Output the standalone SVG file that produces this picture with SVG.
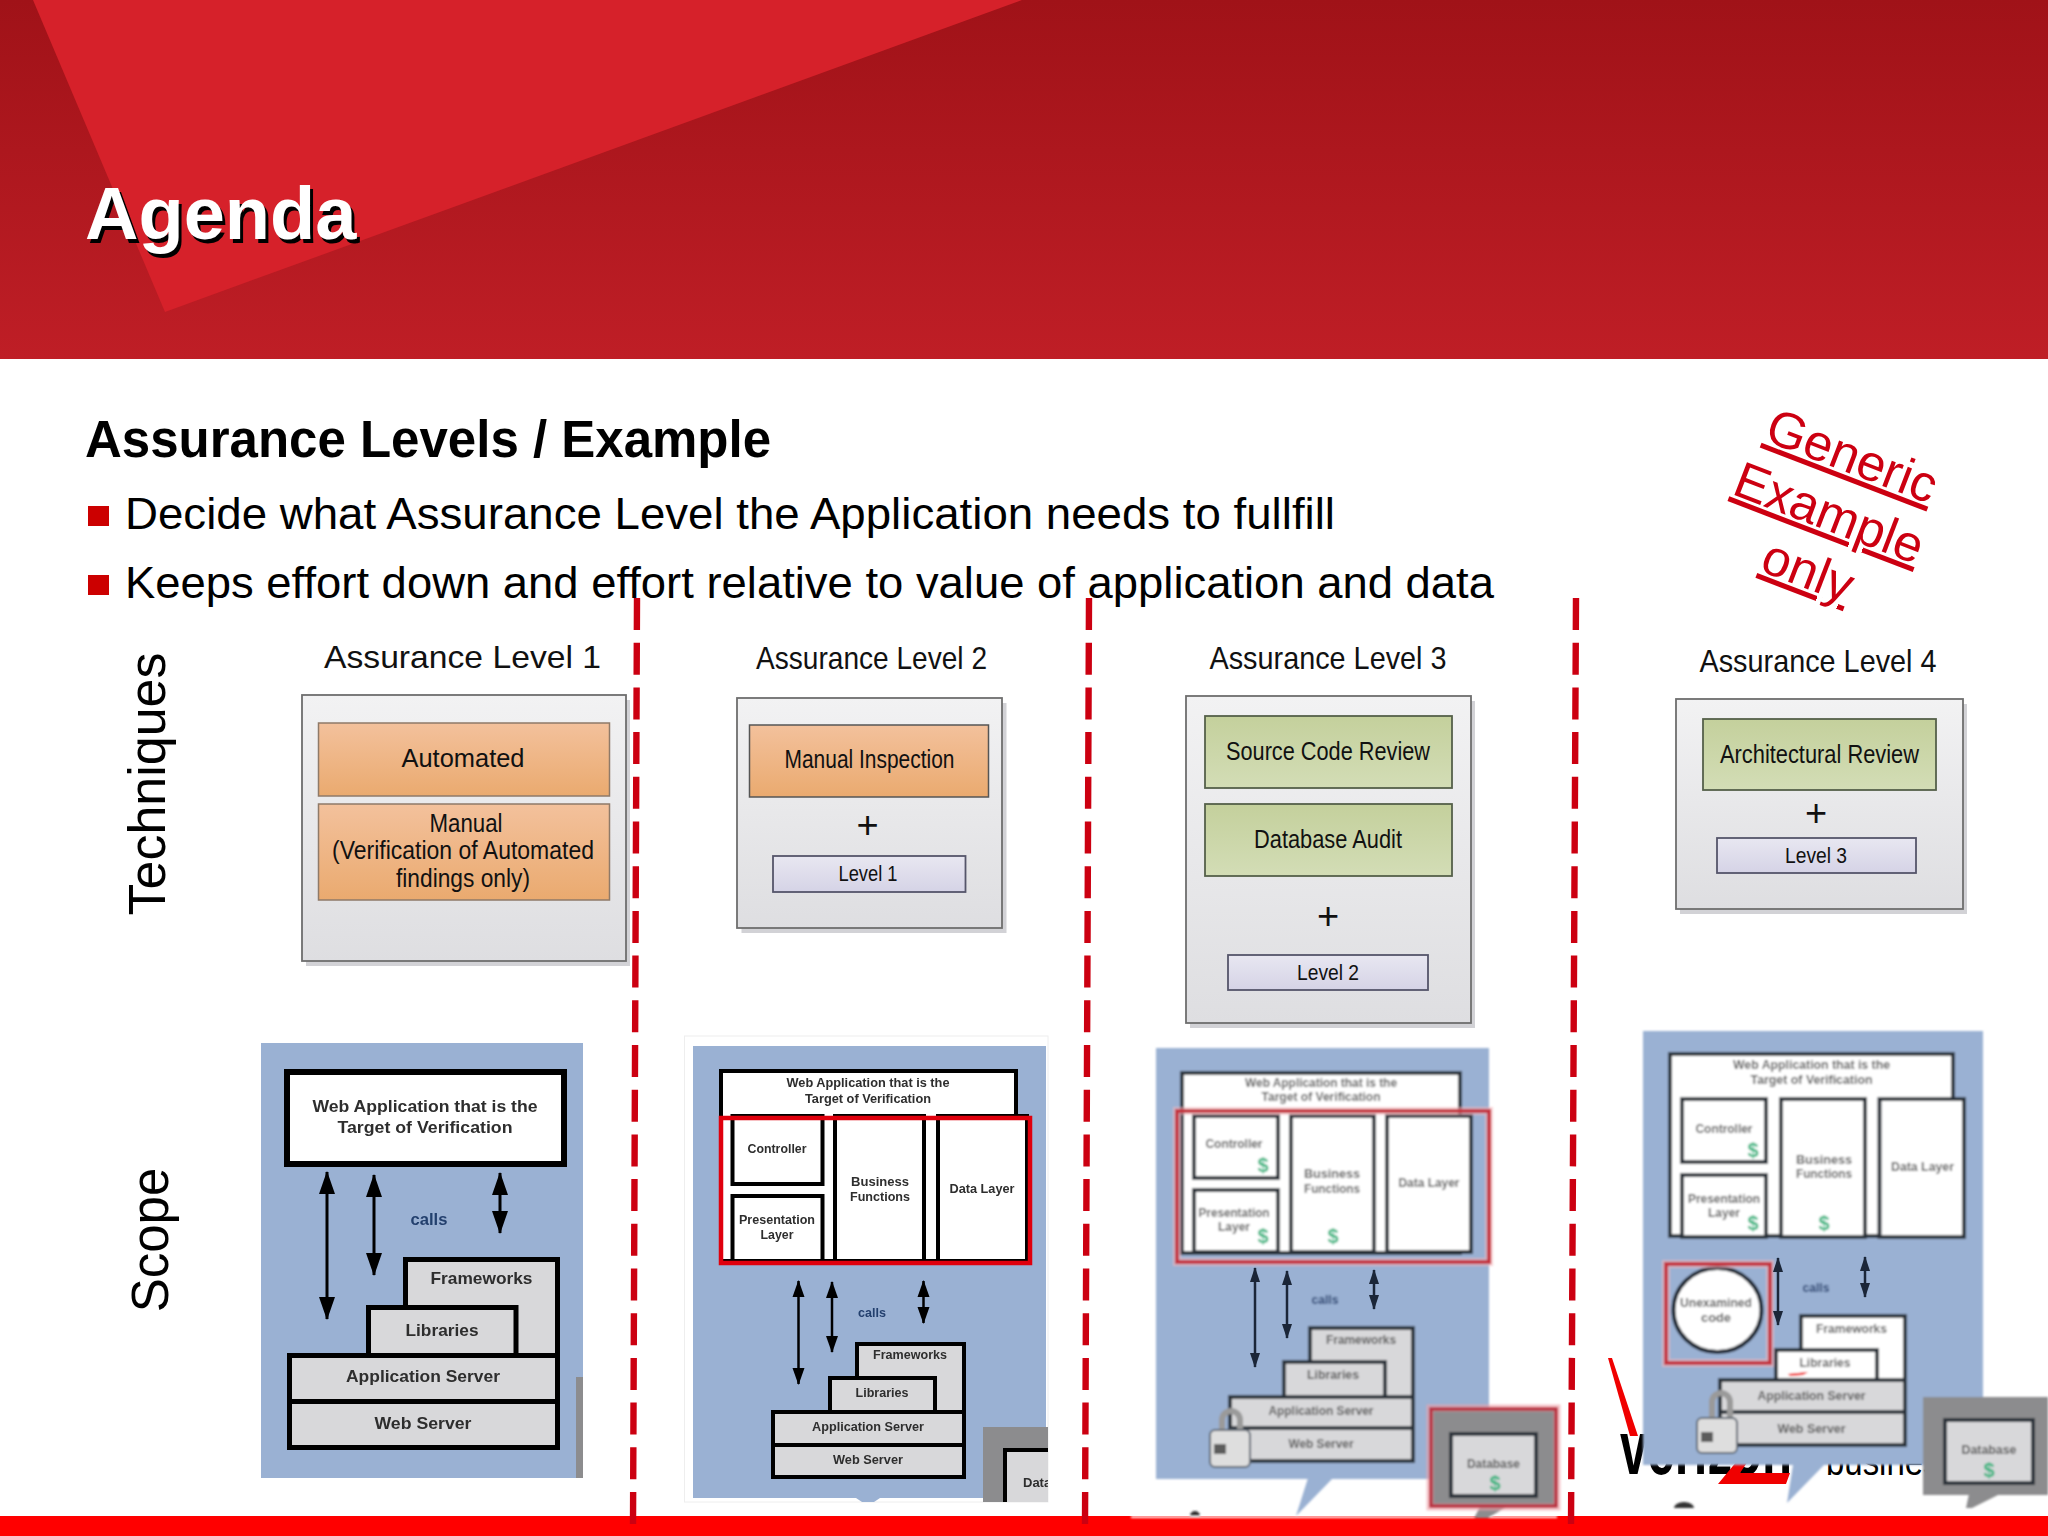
<svg xmlns="http://www.w3.org/2000/svg" width="2048" height="1536" viewBox="0 0 2048 1536" font-family="'Liberation Sans', Arial, sans-serif">
<style>
text{font-family:"Liberation Sans",Arial,sans-serif}
.title{font-size:32px;fill:#111;text-anchor:middle}
.mid{font-size:25.5px;fill:#111;text-anchor:middle}
.lvl{font-size:22px;fill:#111;text-anchor:middle}
.plus{font-size:38px;fill:#111;text-anchor:middle}
.outer{fill:url(#gGrey);stroke:#6e6e6e;stroke-width:1.8}
.shadow{fill:#d2d2d6}
.org{fill:url(#gOrg);stroke:#8f7a68;stroke-width:1.5}
.grn{fill:url(#gGrn);stroke:#55604a;stroke-width:1.8}
.lil{fill:url(#gLil);stroke:#55556a;stroke-width:1.8}
.side{fill:#000;text-anchor:middle}
.b{font-weight:bold;text-anchor:middle;fill:#2d2d2d}
.s17{font-size:17px}.s13{font-size:13px}
.calls{fill:#24406e}
.blue{fill:#9AB1D3}
.k1{fill:#D8D8DA;stroke:#000;stroke-width:5}
.w1{fill:#fff;stroke:#000;stroke-width:6}
.k2{fill:#D8D8DA;stroke:#000;stroke-width:4}
.w2{fill:#fff;stroke:#000;stroke-width:4}
.k3{fill:#D8D8DA;stroke:#2b303a;stroke-width:4}
.w3{fill:#fff;stroke:#2b303a;stroke-width:4}
.dim{fill:#5a5a5a}
.usd{font-size:20px;font-weight:bold;fill:#2DB37C;text-anchor:middle}
.dbg{fill:#8C8C8E}
.rb{fill:none;stroke:#C4303E;stroke-width:4}
.rh{fill:none;stroke:#f3b5ba;stroke-width:8;opacity:.6}
.a1{stroke:#000;stroke-width:3;marker-start:url(#h1);marker-end:url(#h1)}
.a2{stroke:#000;stroke-width:2.5;marker-start:url(#h2);marker-end:url(#h2)}
.a3{stroke:#1b2638;stroke-width:2.5;marker-start:url(#h3);marker-end:url(#h3)}
.dash{stroke:#CC0011;stroke-width:6.4;stroke-dasharray:32 12.7;fill:none}
.gen{font-size:51px;fill:#CC0011;text-anchor:middle;text-decoration:underline}
.bul{fill:#CC0000}
.body{font-size:45px;fill:#000}
.lockb{fill:#dedede;stroke:#5f6873;stroke-width:2}
.locks{fill:none;stroke:#9a9a9a;stroke-width:6}
.lockk{fill:#5c5c5c}
</style>
<defs>
<linearGradient id="gHead" x1="0" y1="0" x2="0" y2="1"><stop offset="0" stop-color="#A01218"/><stop offset="1" stop-color="#BF1E26"/></linearGradient>
<linearGradient id="gGrey" x1="0" y1="0" x2="0" y2="1"><stop offset="0" stop-color="#F2F2F3"/><stop offset="1" stop-color="#DEDEE1"/></linearGradient>
<linearGradient id="gOrg" x1="0" y1="0" x2="0" y2="1"><stop offset="0" stop-color="#F3C19C"/><stop offset="1" stop-color="#EAAA6F"/></linearGradient>
<linearGradient id="gGrn" x1="0" y1="0" x2="0" y2="1"><stop offset="0" stop-color="#C4D09C"/><stop offset="1" stop-color="#D3DDB6"/></linearGradient>
<linearGradient id="gLil" x1="0" y1="0" x2="0" y2="1"><stop offset="0" stop-color="#E8E7F1"/><stop offset="1" stop-color="#D5D3E6"/></linearGradient>
<marker id="h1" markerUnits="userSpaceOnUse" markerWidth="24" markerHeight="18" refX="22" refY="9" orient="auto-start-reverse"><path d="M0,1 L23,9 L0,17 Z" fill="#000"/></marker>
<marker id="h2" markerUnits="userSpaceOnUse" markerWidth="18" markerHeight="14" refX="16" refY="7" orient="auto-start-reverse"><path d="M0,1 L17,7 L0,13 Z" fill="#000"/></marker>
<marker id="h3" markerUnits="userSpaceOnUse" markerWidth="16" markerHeight="12" refX="14" refY="6" orient="auto-start-reverse"><path d="M0,1 L15,6 L0,11 Z" fill="#1b2638"/></marker>
<filter id="soft1" x="-5%" y="-5%" width="110%" height="110%"><feGaussianBlur stdDeviation="0.45"/></filter>
<filter id="soft3" x="-5%" y="-5%" width="110%" height="110%"><feGaussianBlur stdDeviation="0.8"/></filter>
<clipPath id="clipP2"><rect x="684" y="1036" width="364" height="466"/></clipPath>
</defs>

<rect width="2048" height="1536" fill="#fff"/>

<g id="header">
<rect width="2048" height="359" fill="url(#gHead)"/>
<polygon points="33,0 1022,0 165,312" fill="#D6212A"/>
<text x="88" y="243" font-size="74" font-weight="bold" fill="#000">Agenda</text>
<text x="85" y="239" font-size="74" font-weight="bold" fill="#fff">Agenda</text>
</g>
<rect id="footer-band" y="1516" width="2048" height="20" fill="#FF0000"/>

<g id="heading">
<text x="85" y="457" font-size="51" font-weight="bold" fill="#000">Assurance Levels / Example</text>
<rect class="bul" x="88" y="506" width="21" height="20"/>
<text class="body" x="125" y="529" textLength="1210" lengthAdjust="spacingAndGlyphs">Decide what Assurance Level the Application needs to fullfill</text>
<rect class="bul" x="88" y="575" width="21" height="20"/>
<text class="body" x="125" y="598" textLength="1369" lengthAdjust="spacingAndGlyphs">Keeps effort down and effort relative to value of application and data</text>
</g>

<g id="stamp">
<text class="gen" transform="translate(1846,472) rotate(21)">Generic</text>
<text class="gen" transform="translate(1823,529) rotate(21)">Example</text>
<text class="gen" transform="translate(1802,587) rotate(21)">only</text>
</g>

<g id="axis-labels">
<text class="side" font-size="52" transform="translate(165,784) rotate(-90)">Techniques</text>
<text class="side" font-size="51" transform="translate(168,1240) rotate(-90)">Scope</text>
</g>

<g id="level-1">
<text class="title" x="462.500" y="668" textLength="277" lengthAdjust="spacingAndGlyphs">Assurance Level 1</text>
<rect class="shadow" x="306" y="700" width="324" height="266"/>
<rect class="outer" x="302" y="695" width="324" height="266"/>
<rect class="org" x="318.500" y="723" width="291" height="73"/>
<text class="mid" x="463" y="767" textLength="123" lengthAdjust="spacingAndGlyphs">Automated</text>
<rect class="org" x="318.500" y="804" width="291" height="96"/>
<text class="mid" x="466" y="832" textLength="73" lengthAdjust="spacingAndGlyphs">Manual</text>
<text class="mid" x="463" y="859" textLength="262" lengthAdjust="spacingAndGlyphs">(Verification of Automated</text>
<text class="mid" x="463" y="887" textLength="134" lengthAdjust="spacingAndGlyphs">findings only)</text>
</g>

<g id="level-2" transform="translate(-2.5,0)">
<text class="title" x="874" y="669" textLength="231" lengthAdjust="spacingAndGlyphs">Assurance Level 2</text>
<rect class="shadow" x="744" y="703" width="265" height="230"/>
<rect class="outer" x="739.500" y="698" width="265" height="230"/>
<rect class="org" x="752" y="725" width="239" height="72" style="stroke:#555"/>
<text class="mid" x="872" y="768" textLength="170" lengthAdjust="spacingAndGlyphs">Manual Inspection</text>
<text class="plus" x="870" y="838">+</text>
<rect class="lil" x="775.500" y="856" width="192.500" height="36"/>
<text class="lvl" x="870.500" y="881" textLength="59" lengthAdjust="spacingAndGlyphs">Level 1</text>
</g>

<g id="level-3">
<text class="title" x="1328" y="669" textLength="237" lengthAdjust="spacingAndGlyphs">Assurance Level 3</text>
<rect class="shadow" x="1190" y="701" width="285" height="327"/>
<rect class="outer" x="1186" y="696" width="285" height="327"/>
<rect class="grn" x="1205" y="716" width="247" height="72"/>
<text class="mid" x="1328" y="760" textLength="204" lengthAdjust="spacingAndGlyphs">Source Code Review</text>
<rect class="grn" x="1205" y="804" width="247" height="72"/>
<text class="mid" x="1328" y="848" textLength="148" lengthAdjust="spacingAndGlyphs">Database Audit</text>
<text class="plus" x="1328" y="929">+</text>
<rect class="lil" x="1228" y="955" width="200" height="35"/>
<text class="lvl" x="1328" y="980" textLength="62" lengthAdjust="spacingAndGlyphs">Level 2</text>
</g>

<g id="level-4">
<text class="title" x="1818" y="672" textLength="237" lengthAdjust="spacingAndGlyphs">Assurance Level 4</text>
<rect class="shadow" x="1680" y="704" width="287" height="210"/>
<rect class="outer" x="1676" y="699" width="287" height="210"/>
<rect class="grn" x="1703" y="719" width="233" height="71"/>
<text class="mid" x="1819.500" y="763" textLength="199" lengthAdjust="spacingAndGlyphs">Architectural Review</text>
<text class="plus" x="1816" y="826">+</text>
<rect class="lil" x="1717" y="838" width="199" height="35"/>
<text class="lvl" x="1816" y="863" textLength="62" lengthAdjust="spacingAndGlyphs">Level 3</text>
</g>

<g id="scope-1" filter="url(#soft1)">
<rect class="blue" x="261" y="1043" width="322" height="435"/>
<rect x="576" y="1377" width="7" height="101" fill="#8C8C8E"/>
<rect class="w1" x="287" y="1072" width="277" height="92"/>
<text class="b s17" x="425" y="1112" textLength="225" lengthAdjust="spacingAndGlyphs">Web Application that is the</text>
<text class="b s17" x="425" y="1133" textLength="175" lengthAdjust="spacingAndGlyphs">Target of Verification</text>
<text class="b s17 calls" x="429" y="1225" textLength="37" lengthAdjust="spacingAndGlyphs">calls</text>
<rect class="k1" x="405.500" y="1259.500" width="152" height="100"/>
<rect class="k1" x="368.500" y="1307.500" width="147.500" height="48"/>
<rect class="k1" x="289.500" y="1355.500" width="268" height="46"/>
<rect class="k1" x="289.500" y="1401.500" width="268" height="46"/>
<text class="b s17" x="481.500" y="1284" textLength="102" lengthAdjust="spacingAndGlyphs">Frameworks</text>
<text class="b s17" x="442" y="1336" textLength="73" lengthAdjust="spacingAndGlyphs">Libraries</text>
<text class="b s17" x="423" y="1382" textLength="154" lengthAdjust="spacingAndGlyphs">Application Server</text>
<text class="b s17" x="423" y="1429" textLength="97" lengthAdjust="spacingAndGlyphs">Web Server</text>
</g>

<g id="scope-2" filter="url(#soft1)">
<rect x="684.500" y="1036" width="363.500" height="466" fill="#fff" stroke="#eee" stroke-width="1"/>
<rect class="blue" x="693" y="1046" width="353" height="452"/>
<polygon class="blue" points="856,1498 880,1498 874,1502 862,1502"/>
<rect class="w2" x="721" y="1071" width="295" height="190"/>
<text class="b s13" x="868" y="1087" textLength="163" lengthAdjust="spacingAndGlyphs">Web Application that is the</text>
<text class="b s13" x="868" y="1103" textLength="126" lengthAdjust="spacingAndGlyphs">Target of Verification</text>
<rect class="w2" x="732.500" y="1116" width="90" height="68"/>
<rect class="w2" x="732.500" y="1196" width="90" height="65"/>
<rect class="w2" x="835" y="1116" width="89" height="145"/>
<rect class="w2" x="938" y="1116" width="89" height="145"/>
<text class="b s13" x="777" y="1153" textLength="59" lengthAdjust="spacingAndGlyphs">Controller</text>
<text class="b s13" x="777" y="1224" textLength="76" lengthAdjust="spacingAndGlyphs">Presentation</text>
<text class="b s13" x="777" y="1239" textLength="33" lengthAdjust="spacingAndGlyphs">Layer</text>
<text class="b s13" x="880" y="1186" textLength="58" lengthAdjust="spacingAndGlyphs">Business</text>
<text class="b s13" x="880" y="1201" textLength="60" lengthAdjust="spacingAndGlyphs">Functions</text>
<text class="b s13" x="982" y="1193" textLength="65" lengthAdjust="spacingAndGlyphs">Data Layer</text>
<rect x="721" y="1118" width="309" height="145" fill="none" stroke="#E0000F" stroke-width="4.500"/>
<text class="b s13 calls" x="872" y="1317" textLength="28" lengthAdjust="spacingAndGlyphs">calls</text>
<rect class="k2" x="857" y="1344" width="107" height="68"/>
<rect class="k2" x="830" y="1378" width="105" height="34"/>
<rect class="k2" x="773" y="1412" width="191" height="33"/>
<rect class="k2" x="773" y="1445" width="191" height="32"/>
<text class="b s13" x="910" y="1359" textLength="74" lengthAdjust="spacingAndGlyphs">Frameworks</text>
<text class="b s13" x="882" y="1397" textLength="53" lengthAdjust="spacingAndGlyphs">Libraries</text>
<text class="b s13" x="868" y="1431" textLength="112" lengthAdjust="spacingAndGlyphs">Application Server</text>
<text class="b s13" x="868" y="1464" textLength="70" lengthAdjust="spacingAndGlyphs">Web Server</text>
<g clip-path="url(#clipP2)">
<rect class="dbg" x="983" y="1427" width="70" height="80"/>
<rect x="1005" y="1450" width="60" height="60" fill="#D8D8DA" stroke="#000" stroke-width="4"/>
<text x="1023" y="1487" font-size="13" font-weight="bold" fill="#2d2d2d">Data</text>
</g>
</g>

<g id="verizon-logo">
<polygon points="1608,1358 1612,1358 1638,1436 1630,1436" fill="#F00000"/>
<text x="1620" y="1474" font-size="76" font-weight="bold" fill="#000" textLength="172" lengthAdjust="spacingAndGlyphs">verizon</text>
<polygon points="1718,1484 1786,1484 1790,1473 1740,1473 1752,1455 1742,1455" fill="#F00000"/>
<text x="1826" y="1475" font-size="38" fill="#000" textLength="130" lengthAdjust="spacingAndGlyphs">business</text>
</g>

<g id="scope-3" filter="url(#soft3)">
<rect x="1131" y="1516" width="426" height="2" fill="#fff"/>
<rect class="blue" x="1156" y="1048" width="333" height="431"/>
<polygon class="blue" points="1308,1478 1333,1478 1296,1516"/>
<rect class="w3" x="1182" y="1073" width="278" height="180"/>
<text class="b s13 dim" x="1321" y="1087" textLength="152" lengthAdjust="spacingAndGlyphs">Web Application that is the</text>
<text class="b s13 dim" x="1321" y="1101" textLength="119" lengthAdjust="spacingAndGlyphs">Target of Verification</text>
<rect class="w3" x="1194" y="1116" width="84" height="62"/>
<rect class="w3" x="1194" y="1190" width="84" height="62"/>
<rect class="w3" x="1291" y="1116" width="83" height="136"/>
<rect class="w3" x="1387" y="1116" width="84" height="136"/>
<text class="b s13 dim" x="1234" y="1148" textLength="57" lengthAdjust="spacingAndGlyphs">Controller</text>
<text class="b s13 dim" x="1234" y="1217" textLength="71" lengthAdjust="spacingAndGlyphs">Presentation</text>
<text class="b s13 dim" x="1234" y="1231" textLength="32" lengthAdjust="spacingAndGlyphs">Layer</text>
<text class="b s13 dim" x="1332" y="1178" textLength="56" lengthAdjust="spacingAndGlyphs">Business</text>
<text class="b s13 dim" x="1332" y="1193" textLength="56" lengthAdjust="spacingAndGlyphs">Functions</text>
<text class="b s13 dim" x="1429" y="1187" textLength="61" lengthAdjust="spacingAndGlyphs">Data Layer</text>
<text class="usd" x="1263" y="1172">$</text>
<text class="usd" x="1263" y="1243">$</text>
<text class="usd" x="1333" y="1243">$</text>
<rect class="rh" x="1177" y="1111" width="312" height="151"/>
<rect class="rb" x="1177" y="1111" width="312" height="151"/>
<text class="b s13 calls" x="1325" y="1304" textLength="27" lengthAdjust="spacingAndGlyphs">calls</text>
<rect class="k3" x="1310" y="1328" width="103" height="69"/>
<rect class="k3" x="1284" y="1362" width="101" height="35"/>
<rect class="k3" x="1230" y="1397" width="183" height="31"/>
<rect class="k3" x="1230" y="1428" width="183" height="33"/>
<text class="b s13 dim" x="1361" y="1344" textLength="70" lengthAdjust="spacingAndGlyphs">Frameworks</text>
<text class="b s13 dim" x="1333" y="1379" textLength="52" lengthAdjust="spacingAndGlyphs">Libraries</text>
<text class="b s13 dim" x="1321" y="1415" textLength="105" lengthAdjust="spacingAndGlyphs">Application Server</text>
<text class="b s13 dim" x="1321" y="1448" textLength="65" lengthAdjust="spacingAndGlyphs">Web Server</text>
<path class="locks" d="M1222,1432 V1420 a9,9 0 0 1 18,0 V1432"/>
<rect class="lockb" x="1210" y="1430" width="40" height="37" rx="5"/>
<rect class="lockk" x="1214" y="1444" width="12" height="10"/>
<path d="M1190,1516 a5,5 0 0 1 10,0 Z" fill="#333"/>
<polygon class="dbg" points="1480,1507 1506,1507 1488,1518 1474,1518"/>
<rect class="dbg" x="1430" y="1408" width="127" height="99"/>
<rect x="1430" y="1408" width="127" height="99" fill="none" stroke="#f0a0a8" stroke-width="7" opacity=".6"/>
<rect x="1431" y="1409" width="125" height="97" fill="none" stroke="#B83040" stroke-width="3.500"/>
<rect class="k3" x="1451" y="1434" width="85" height="62"/>
<text class="b s13 dim" x="1493.500" y="1468" textLength="53" lengthAdjust="spacingAndGlyphs">Database</text>
<text class="usd" x="1495" y="1490">$</text>
</g>

<g id="scope-4" filter="url(#soft3)">
<rect class="blue" x="1643" y="1031" width="340" height="434"/>
<polygon class="blue" points="1793,1465 1824,1465 1787,1503"/>
<rect class="w3" x="1670" y="1054" width="283" height="182"/>
<text class="b s13 dim" x="1811.500" y="1069" textLength="157" lengthAdjust="spacingAndGlyphs">Web Application that is the</text>
<text class="b s13 dim" x="1811.500" y="1084" textLength="122" lengthAdjust="spacingAndGlyphs">Target of Verification</text>
<rect class="w3" x="1682" y="1099" width="84" height="63"/>
<rect class="w3" x="1682" y="1175" width="84" height="62"/>
<rect class="w3" x="1781" y="1099" width="84" height="138"/>
<rect class="w3" x="1879.500" y="1099" width="84.500" height="138"/>
<text class="b s13 dim" x="1724" y="1133" textLength="57" lengthAdjust="spacingAndGlyphs">Controller</text>
<text class="b s13 dim" x="1724" y="1203" textLength="72" lengthAdjust="spacingAndGlyphs">Presentation</text>
<text class="b s13 dim" x="1724" y="1217" textLength="32" lengthAdjust="spacingAndGlyphs">Layer</text>
<text class="b s13 dim" x="1824" y="1164" textLength="56" lengthAdjust="spacingAndGlyphs">Business</text>
<text class="b s13 dim" x="1824" y="1178" textLength="56" lengthAdjust="spacingAndGlyphs">Functions</text>
<text class="b s13 dim" x="1922.500" y="1171" textLength="63" lengthAdjust="spacingAndGlyphs">Data Layer</text>
<text class="usd" x="1753" y="1157">$</text>
<text class="usd" x="1753" y="1230">$</text>
<text class="usd" x="1824" y="1230">$</text>
<ellipse cx="1717.500" cy="1310" rx="44" ry="42" fill="#fff" stroke="#1e2633" stroke-width="4"/>
<text class="b s13 dim" x="1716" y="1307" textLength="72" lengthAdjust="spacingAndGlyphs">Unexamined</text>
<text class="b s13 dim" x="1716" y="1322" textLength="30" lengthAdjust="spacingAndGlyphs">code</text>
<rect class="rh" x="1666" y="1264" width="104" height="99"/>
<rect class="rb" x="1666" y="1264" width="104" height="99"/>
<text class="b s13 calls" x="1816" y="1292" textLength="27" lengthAdjust="spacingAndGlyphs">calls</text>
<rect class="w3" x="1801" y="1316" width="104" height="64"/>
<rect class="w3" x="1776" y="1350" width="101" height="30"/>
<polygon points="1788,1374 1808,1372 1803,1375 1790,1376" fill="#F00000"/>
<rect class="k3" x="1720" y="1380" width="185" height="32"/>
<rect class="k3" x="1720" y="1412" width="185" height="33"/>
<text class="b s13 dim" x="1851.500" y="1333" textLength="71" lengthAdjust="spacingAndGlyphs">Frameworks</text>
<text class="b s13 dim" x="1825" y="1367" textLength="51" lengthAdjust="spacingAndGlyphs">Libraries</text>
<text class="b s13 dim" x="1811.500" y="1400" textLength="108" lengthAdjust="spacingAndGlyphs">Application Server</text>
<text class="b s13 dim" x="1811.500" y="1433" textLength="68" lengthAdjust="spacingAndGlyphs">Web Server</text>
<path class="locks" d="M1712,1420 V1402 a9,9 0 0 1 18,0 V1420"/>
<rect class="lockb" x="1697" y="1418" width="40" height="35" rx="5"/>
<rect class="lockk" x="1701" y="1432" width="12" height="10"/>
<path d="M1674,1508 a10,6 0 0 1 20,0 Z" fill="#333"/>
<polygon class="dbg" points="1969,1494 2000,1494 1972,1508 1966,1508"/>
<rect class="dbg" x="1923" y="1397" width="125" height="98"/>
<rect class="k3" x="1945" y="1420" width="88" height="63"/>
<text class="b s13 dim" x="1989" y="1454" textLength="55" lengthAdjust="spacingAndGlyphs">Database</text>
<text class="usd" x="1989" y="1477">$</text>
</g>

<g id="connectors">
<line class="a1" x1="327" y1="1172" x2="327" y2="1319"/>
<line class="a1" x1="374" y1="1175" x2="374" y2="1275"/>
<line class="a1" x1="500" y1="1173" x2="500" y2="1233"/>
<line class="a2" x1="798.500" y1="1281" x2="798.500" y2="1384"/>
<line class="a2" x1="832" y1="1282" x2="832" y2="1352"/>
<line class="a2" x1="923.500" y1="1281" x2="923.500" y2="1323"/>
<line class="a3" x1="1255" y1="1268" x2="1255" y2="1367"/>
<line class="a3" x1="1287" y1="1271" x2="1287" y2="1338"/>
<line class="a3" x1="1374" y1="1270" x2="1374" y2="1309"/>
<line class="a3" x1="1778" y1="1258" x2="1778" y2="1325"/>
<line class="a3" x1="1865" y1="1257" x2="1865" y2="1297"/>
<line class="dash" x1="637" y1="598" x2="633" y2="1526"/>
<line class="dash" x1="1089" y1="598" x2="1085" y2="1526"/>
<line class="dash" x1="1576" y1="598" x2="1571" y2="1526"/>
</g>
</svg>
